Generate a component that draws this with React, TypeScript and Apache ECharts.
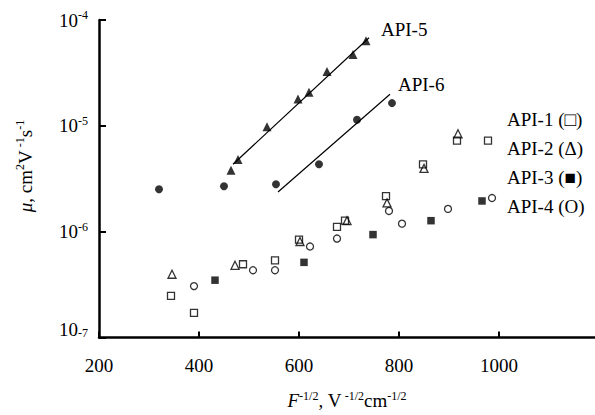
import React, { useEffect, useRef } from "react";
import * as echarts from "echarts";

// ---- data ----
const xTickValues = [200, 400, 600, 800, 1000];

const api1: [number, number][] = [
  [344, 2.47e-7], [390, 1.71e-7], [488, 4.92e-7], [552, 5.36e-7], [600, 8.41e-7],
  [676, 1.11e-6], [692, 1.27e-6], [774, 2.17e-6], [848, 4.33e-6], [916, 7.24e-6], [978, 7.24e-6],
];
const api2: [number, number][] = [
  [346, 3.96e-7], [472, 4.81e-7], [602, 8.07e-7], [696, 1.27e-6], [776, 1.87e-6],
  [850, 3.96e-6], [918, 8.41e-6],
];
const api3: [number, number][] = [
  [432, 3.48e-7], [610, 5.13e-7], [748, 9.38e-7], [864, 1.27e-6], [966, 1.95e-6],
];
const api4: [number, number][] = [
  [390, 3.06e-7], [508, 4.32e-7], [552, 4.32e-7], [622, 7.24e-7], [676, 8.61e-7],
  [780, 1.57e-6], [806, 1.19e-6], [898, 1.64e-6], [986, 2.08e-6],
];
const api5: [number, number][] = [
  [464, 3.8e-6], [478, 4.8e-6], [536, 9.8e-6], [598, 1.79e-5], [620, 2.08e-5],
  [656, 3.27e-5], [708, 4.71e-5], [734, 6.37e-5],
];
const api6: [number, number][] = [
  [320, 2.52e-6], [450, 2.69e-6], [554, 2.81e-6], [640, 4.33e-6], [716, 1.14e-5], [786, 1.64e-5],
];
const api5Fit: [number, number][] = [[468, 4.33e-6], [740, 6.79e-5]];
const api6Fit: [number, number][] = [[558, 2.37e-6], [782, 1.99e-5]];

const legendNames = ["API-1", "API-2", "API-3", "API-4"];
const legendMarks: Record<string, string> = {
  "API-1": "\u25A1",
  "API-2": "\u0394",
  "API-3": "\u25A0",
  "API-4": "O",
};

const FONT = "'Liberation Serif', 'Times New Roman', serif";
const FS = 19;
const SFS = 12;

export default function App() {
  const ref = useRef<HTMLDivElement>(null);

  useEffect(() => {
    if (!ref.current) return;
    const chart = echarts.init(ref.current, undefined, { renderer: "svg" });

    const supRich = {
      n: { fontFamily: FONT, fontSize: FS, color: "#000", lineHeight: 22 },
      i: { fontFamily: FONT, fontSize: FS, color: "#000", fontStyle: "italic", lineHeight: 22 },
      s: { fontFamily: FONT, fontSize: SFS, color: "#000", verticalAlign: "top" },
    };

    const open = "rgba(0,0,0,0)";

    chart.setOption({
      animation: false,
      backgroundColor: "#fff",
      grid: { left: 99, top: 20, right: 0, bottom: 74, containLabel: false },
      xAxis: {
        type: "value",
        min: 200,
        max: 1192,
        interval: 200,
        name: "{i|F}{s|-1/2}{n|, V}{s| -1/2}{n|cm}{s|-1/2}",
        nameLocation: "middle",
        nameGap: 52,
        nameTextStyle: { rich: supRich },
        axisLine: { show: true, onZero: false, lineStyle: { color: "#000", width: 2.5 } },
        axisTick: { show: true, inside: true, length: 6, lineStyle: { color: "#000", width: 2 }, customValues: xTickValues },
        axisLabel: {
          show: true,
          margin: 18,
          color: "#000",
          fontFamily: FONT,
          fontSize: FS,
          customValues: xTickValues,
          formatter: (v: number) => (v % 200 === 0 && v <= 1000 ? String(v) : ""),
        },
        splitLine: { show: false },
      },
      yAxis: {
        type: "log",
        logBase: 10,
        min: 1e-7,
        max: 1e-4,
        axisLine: { show: true, onZero: false, lineStyle: { color: "#000", width: 2.5 } },
        axisTick: { show: true, inside: true, length: 7, lineStyle: { color: "#000", width: 2 } },
        minorTick: { show: false },
        axisLabel: {
          show: true,
          margin: 11,
          formatter: (v: number) => {
            const e = Math.round(Math.log10(v));
            return e === -7 ? `{b7|10}{s7|${e}}` : `{b|10}{s|${e}}`;
          },
          rich: {
            b: { fontFamily: FONT, fontSize: FS, color: "#000", lineHeight: 22 },
            s: { fontFamily: FONT, fontSize: SFS, color: "#000", verticalAlign: "top" },
            b7: { fontFamily: FONT, fontSize: FS, color: "#000", lineHeight: 22, padding: [0, 0, 16, 0] },
            s7: { fontFamily: FONT, fontSize: SFS, color: "#000", verticalAlign: "top" },
          },
        },
        splitLine: { show: false },
      },
      legend: {
        data: legendNames,
        orient: "vertical",
        left: 497,
        top: 104,
        icon: "none",
        itemWidth: 0,
        itemHeight: 0,
        itemGap: 9,
        selectedMode: false,
        formatter: (name: string) => `${name} (${legendMarks[name]})`,
        textStyle: { fontFamily: FONT, fontSize: FS, color: "#000", lineHeight: 20 },
      },
      graphic: [
        {
          type: "text",
          x: 25,
          y: 166,
          rotation: Math.PI / 2,
          style: {
            text: "{i|\u03BC}{n|, cm}{s|2}{n|V}{s| -1}{n|s}{s|-1}",
            rich: supRich,
            align: "center",
            verticalAlign: "middle",
          },
        },
      ],
      series: [
        {
          name: "API-5 fit",
          type: "line",
          data: api5Fit,
          symbol: "none",
          lineStyle: { color: "#000", width: 1.2 },
          endLabel: {
            show: true,
            formatter: "API-5",
            distance: 0,
            offset: [12, -8],
            fontFamily: FONT,
            fontSize: FS,
            color: "#000",
          },
          z: 1,
        },
        {
          name: "API-6 fit",
          type: "line",
          data: api6Fit,
          symbol: "none",
          lineStyle: { color: "#000", width: 1.2 },
          endLabel: {
            show: true,
            formatter: "API-6",
            distance: 0,
            offset: [8, -10],
            fontFamily: FONT,
            fontSize: FS,
            color: "#000",
          },
          z: 1,
        },
        {
          name: "API-1",
          type: "scatter",
          data: api1,
          symbol: "rect",
          symbolSize: 7,
          itemStyle: { color: open, borderColor: "#000", borderWidth: 1.3 },
        },
        {
          name: "API-2",
          type: "scatter",
          data: api2,
          symbol: "triangle",
          symbolSize: 8,
          itemStyle: { color: open, borderColor: "#000", borderWidth: 1.3 },
        },
        {
          name: "API-3",
          type: "scatter",
          data: api3,
          symbol: "rect",
          symbolSize: 7.5,
          itemStyle: { color: "#000" },
        },
        {
          name: "API-4",
          type: "scatter",
          data: api4,
          symbol: "circle",
          symbolSize: 7,
          itemStyle: { color: open, borderColor: "#000", borderWidth: 1.3 },
        },
        {
          name: "API-5",
          type: "scatter",
          data: api5,
          symbol: "triangle",
          symbolSize: 9,
          itemStyle: { color: "#000" },
        },
        {
          name: "API-6",
          type: "scatter",
          data: api6,
          symbol: "circle",
          symbolSize: 8,
          itemStyle: { color: "#000" },
        },
      ],
    });

    return () => chart.dispose();
  }, []);

  return (
    <div
      ref={ref}
      style={{ position: "fixed", left: 0, top: 0, width: 595, height: 415, background: "#fff" }}
    />
  );
}
